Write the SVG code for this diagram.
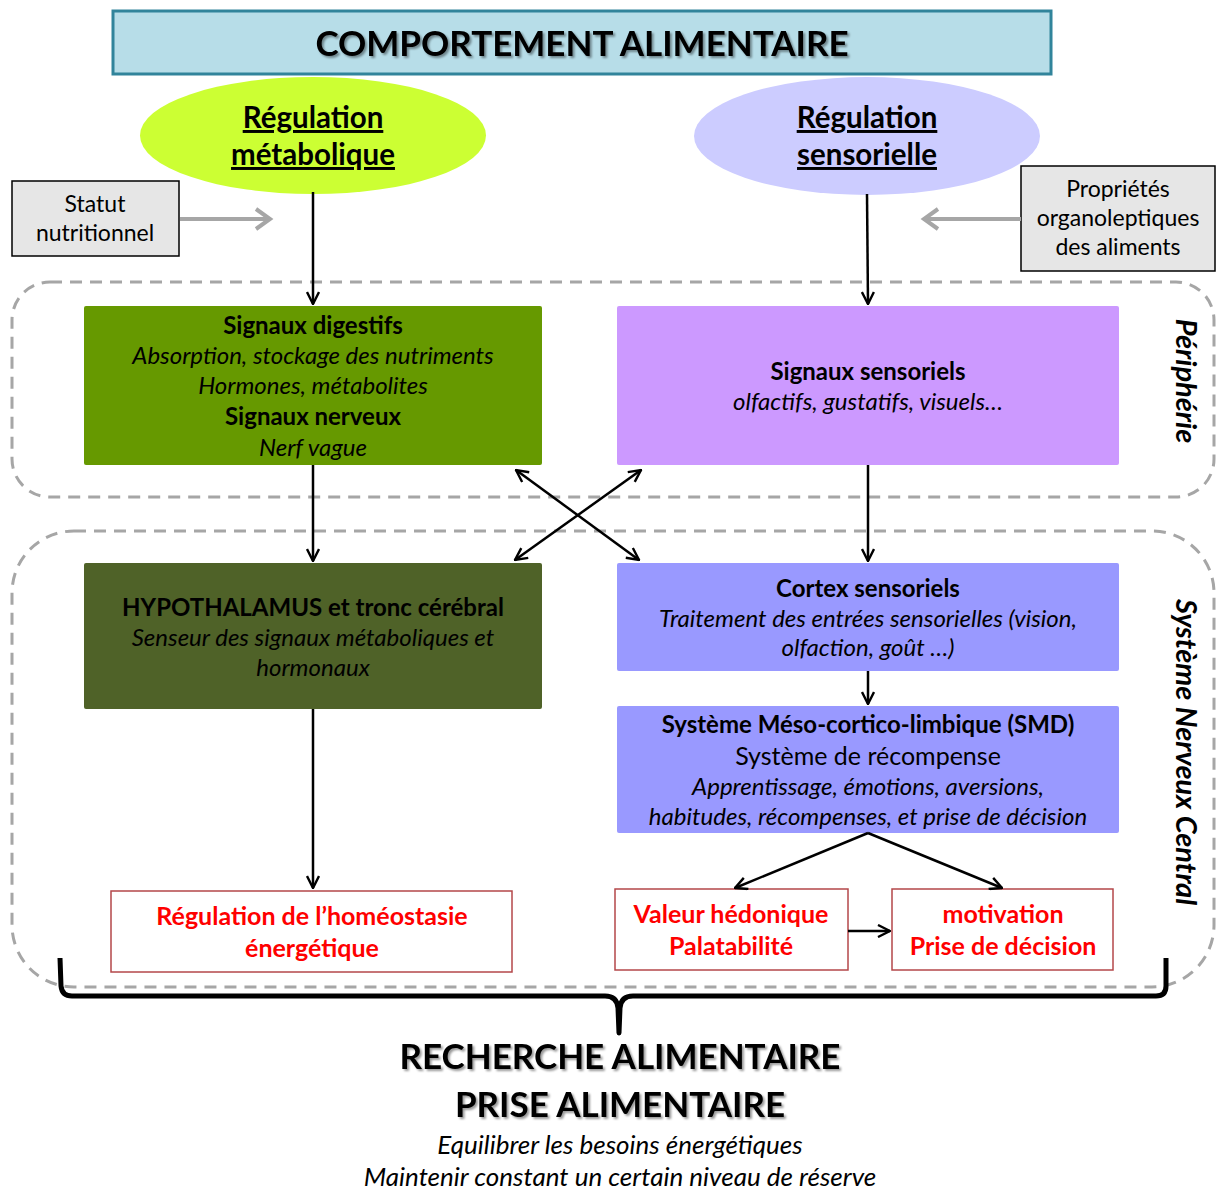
<svg xmlns="http://www.w3.org/2000/svg" width="1216" height="1190" viewBox="0 0 1216 1190">
<defs>
<style>
text{font-family:Lato,"Open Sans","Liberation Sans",sans-serif;text-anchor:middle;fill:#000}
.b{font-weight:bold}
.i{font-style:italic}
.t22{font-size:24px}
.t23{font-size:23px}
.red{fill:#ff0000;font-weight:bold;font-size:25px}
.big{font-size:35px;font-weight:bold}
.ell{font-size:29.5px;font-weight:bold;text-decoration:underline}
.side{font-size:29px;font-weight:bold;font-style:italic}
.dash{fill:none;stroke:#a6a6a6;stroke-width:3;stroke-dasharray:12 8}
.conn{stroke:#000;stroke-width:2.5;fill:none}
.gconn{stroke:#a6a6a6;stroke-width:4;fill:none}
.rbox{fill:#fff;stroke:#b4474a;stroke-width:1.5}
</style>
<marker id="ah" viewBox="0 0 14 14" refX="13" refY="7" markerWidth="14" markerHeight="14" markerUnits="userSpaceOnUse" orient="auto-start-reverse">
<path d="M1,1 L13,7 L1,13" fill="none" stroke="#000" stroke-width="2.4"/>
</marker>
<marker id="gah" viewBox="0 0 12 12" refX="10" refY="6" markerWidth="24" markerHeight="24" markerUnits="userSpaceOnUse" orient="auto">
<path d="M3,1 L10,6 L3,11" fill="none" stroke="#a6a6a6" stroke-width="2"/>
</marker>
<filter id="sh" x="-5%" y="-20%" width="110%" height="150%">
<feDropShadow dx="2" dy="2" stdDeviation="1.2" flood-color="#000" flood-opacity="0.4"/>
</filter>
</defs>

<g id="regions">
<rect class="dash" x="12" y="282" width="1202" height="215" rx="38"/>
<rect class="dash" x="12" y="531" width="1202" height="456" rx="62"/>
<text class="side" transform="translate(1176,381) rotate(90)">Périphérie</text>
<text class="side" transform="translate(1176,752) rotate(90)">Système Nerveux Central</text>
</g>

<g id="title">
<rect x="113" y="11" width="938" height="63" fill="#b7dde8" stroke="#31849b" stroke-width="3"/>
<text class="big" x="582" y="56" filter="url(#sh)">COMPORTEMENT ALIMENTAIRE</text>
</g>

<g id="reg-metab">
<ellipse cx="313" cy="135.5" rx="173" ry="58.5" fill="#ccff33"/>
<text class="ell" x="313" y="128">Régulation</text>
<text class="ell" x="313" y="165">métabolique</text>
</g>

<g id="reg-sens">
<ellipse cx="867" cy="136" rx="173" ry="59" fill="#ccccff"/>
<text class="ell" x="867" y="128">Régulation</text>
<text class="ell" x="867" y="165">sensorielle</text>
</g>

<g id="statut">
<rect x="12" y="181" width="167" height="75" fill="#e6e6e6" stroke="#000" stroke-width="1.5"/>
<text class="t23" x="95" y="212">Statut</text>
<text class="t23" x="95" y="241">nutritionnel</text>
</g>

<g id="proprietes">
<rect x="1021" y="166" width="194" height="105" fill="#e6e6e6" stroke="#000" stroke-width="1.5"/>
<text class="t23" x="1118" y="197">Propriétés</text>
<text class="t23" x="1118" y="226">organoleptiques</text>
<text class="t23" x="1118" y="255">des aliments</text>
</g>

<g id="sig-dig">
<rect x="84" y="306" width="458" height="159" rx="2" fill="#669900"/>
<text class="t22 b" x="313" y="334">Signaux digestifs</text>
<text class="t22 i" x="313" y="364">Absorption, stockage des nutriments</text>
<text class="t22 i" x="313" y="394">Hormones, métabolites</text>
<text class="t22 b" x="313" y="425">Signaux nerveux</text>
<text class="t22 i" x="313" y="456">Nerf vague</text>
</g>

<g id="sig-sens">
<rect x="617" y="306" width="502" height="159" rx="2" fill="#cc99ff"/>
<text class="t22 b" x="868" y="380">Signaux sensoriels</text>
<text class="t22 i" x="868" y="410">olfactifs, gustatifs, visuels…</text>
</g>

<g id="hypo">
<rect x="84" y="563" width="458" height="146" rx="2" fill="#4f6228"/>
<text class="t22 b" x="313" y="616">HYPOTHALAMUS et tronc cérébral</text>
<text class="t22 i" x="313" y="646">Senseur des signaux métaboliques et</text>
<text class="t22 i" x="313" y="676">hormonaux</text>
</g>

<g id="cortex">
<rect x="617" y="563" width="502" height="108" rx="2" fill="#9999ff"/>
<text class="t22 b" x="868" y="597">Cortex sensoriels</text>
<text class="t22 i" x="868" y="627">Traitement des entrées sensorielles (vision,</text>
<text class="t22 i" x="868" y="656">olfaction, goût …)</text>
</g>

<g id="smd">
<rect x="617" y="706" width="502" height="127" rx="2" fill="#9999ff"/>
<text class="t22 b" x="868" y="733">Système Méso-cortico-limbique (SMD)</text>
<text font-size="25" x="868" y="765">Système de récompense</text>
<text class="t22 i" x="868" y="795">Apprentissage, émotions, aversions,</text>
<text class="t22 i" x="868" y="825">habitudes, récompenses, et prise de décision</text>
</g>

<g id="homeo">
<rect class="rbox" x="111" y="891" width="401" height="81"/>
<text class="red" x="312" y="925">Régulation de l’homéostasie</text>
<text class="red" x="312" y="957">énergétique</text>
</g>

<g id="hedon">
<rect class="rbox" x="615" y="889" width="233" height="81"/>
<text class="red" x="731" y="923">Valeur hédonique</text>
<text class="red" x="731" y="955">Palatabilité</text>
</g>

<g id="motiv">
<rect class="rbox" x="892" y="889" width="221" height="81"/>
<text class="red" x="1003" y="923">motivation</text>
<text class="red" x="1003" y="955">Prise de décision</text>
</g>

<g id="connectors">
<line class="gconn" x1="180" y1="219" x2="270" y2="219" marker-end="url(#gah)"/>
<line class="gconn" x1="1021" y1="219" x2="924" y2="219" marker-end="url(#gah)"/>
<line class="conn" x1="313" y1="192" x2="313" y2="304" marker-end="url(#ah)"/>
<line class="conn" x1="867" y1="194" x2="868" y2="304" marker-end="url(#ah)"/>
<line class="conn" x1="313" y1="465" x2="313" y2="561" marker-end="url(#ah)"/>
<line class="conn" x1="868" y1="465" x2="868" y2="561" marker-end="url(#ah)"/>
<line class="conn" x1="868" y1="671" x2="868" y2="704" marker-end="url(#ah)"/>
<line class="conn" x1="516" y1="470" x2="639" y2="560" marker-start="url(#ah)" marker-end="url(#ah)"/>
<line class="conn" x1="641" y1="470" x2="515" y2="560" marker-start="url(#ah)" marker-end="url(#ah)"/>
<line class="conn" x1="868" y1="833" x2="735" y2="888" marker-end="url(#ah)"/>
<line class="conn" x1="868" y1="833" x2="1002" y2="888" marker-end="url(#ah)"/>
<line class="conn" x1="848" y1="931" x2="890" y2="931" marker-end="url(#ah)"/>
<line class="conn" x1="313" y1="709" x2="313" y2="888" marker-end="url(#ah)"/>
</g>

<g id="brace">
<path d="M60,958 L61,986 Q62,996 72,996 L605,996 Q617,996 618,1008 L619,1033 L620,1008 Q621,996 633,996 L1156,996 Q1166,996 1166,986 L1166,958" fill="none" stroke="#000" stroke-width="5" stroke-linejoin="round"/>
</g>

<g id="result">
<text class="big" x="620" y="1069" filter="url(#sh)">RECHERCHE ALIMENTAIRE</text>
<text class="big" x="620" y="1117" filter="url(#sh)">PRISE ALIMENTAIRE</text>
<text font-size="26" class="i" x="620" y="1154">Equilibrer les besoins énergétiques</text>
<text font-size="26" class="i" x="620" y="1186">Maintenir constant un certain niveau de réserve</text>
</g>
</svg>
